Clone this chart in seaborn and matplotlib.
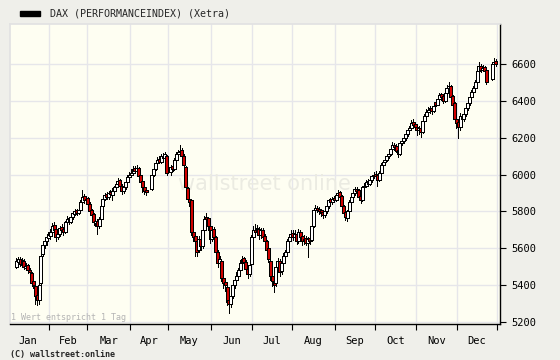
import numpy as np
import pandas as pd
import seaborn as sns
import matplotlib.pyplot as plt
from matplotlib.patches import Rectangle

start, end = '2006-01-06', '2006-12-29'
holidays = ['2006-04-14', '2006-04-17', '2006-05-01', '2006-12-25', '2006-12-26']
months = ['Jan', 'Feb', 'Mar', 'Apr', 'May', 'Jun', 'Jul', 'Aug', 'Sep', 'Oct', 'Nov', 'Dec']
yticks = [5200, 5400, 5600, 5800, 6000, 6200, 6400, 6600]

open_ = [
    5500, 5525, 5540, 5510, 5530, 5495, 5510, 5480, 5465, 5420, 5395, 5345, 5320, 5410, 5570, 5615, 5640, 5655,  # Jan
    5665, 5690, 5725, 5705, 5660, 5675, 5715, 5705, 5690, 5740, 5765, 5740, 5770, 5785, 5805, 5790, 5810, 5850, 5885, 5860,  # Feb
    5875, 5840, 5805, 5785, 5735, 5750, 5720, 5760, 5830, 5870, 5895, 5880, 5905, 5890, 5910, 5930, 5950, 5970, 5940, 5910, 5930, 5960, 5985,  # Mar
    6000, 6010, 6035, 6020, 6035, 5995, 5965, 5935, 5915, 5920, 6000, 6030, 6060, 6085, 6070, 6100, 6090, 6100,  # Apr
    6015, 6045, 6030, 6080, 6110, 6120, 6135, 6100, 6040, 5925, 5870, 5860, 5690, 5665, 5640, 5590, 5650, 5610, 5700, 5770, 5765, 5720,  # May
    5650, 5705, 5660, 5580, 5520, 5530, 5440, 5415, 5390, 5320, 5300, 5340, 5400, 5430, 5450, 5480, 5520, 5545, 5525, 5490, 5460, 5515,  # Jun
    5660, 5700, 5690, 5705, 5670, 5700, 5665, 5640, 5600, 5530, 5450, 5425, 5410, 5500, 5530, 5475, 5520, 5560, 5580, 5640, 5660,  # Jul
    5685, 5660, 5680, 5640, 5690, 5665, 5640, 5655, 5630, 5655, 5645, 5720, 5810, 5820, 5815, 5805, 5795, 5780, 5800, 5830, 5865, 5850, 5875,  # Aug
    5860, 5890, 5905, 5885, 5830, 5795, 5765, 5800, 5850, 5880, 5900, 5920, 5915, 5885, 5860, 5930, 5940, 5965, 5950, 5970, 5990,  # Sep
    6005, 5995, 5970, 6010, 6050, 6070, 6080, 6100, 6110, 6140, 6160, 6155, 6135, 6110, 6170, 6180, 6200, 6220, 6240, 6250, 6285, 6275,  # Oct
    6260, 6240, 6255, 6230, 6290, 6320, 6340, 6350, 6360, 6345, 6395, 6380, 6410, 6435, 6425, 6400, 6440, 6470, 6480, 6425, 6390, 6300,  # Nov
    6285, 6260, 6320, 6300, 6330, 6360, 6390, 6420, 6450, 6470, 6500, 6560, 6590, 6570, 6585, 6565, 6520, 6600, 6615,  # Dec
]
high = [
    5545, 5555, 5550, 5545, 5540, 5520, 5515, 5495, 5470, 5440, 5400, 5360, 5410, 5570, 5630, 5650, 5675, 5690,
    5705, 5735, 5740, 5715, 5695, 5720, 5730, 5715, 5750, 5775, 5770, 5785, 5800, 5815, 5815, 5825, 5860, 5915, 5895, 5885,
    5880, 5850, 5815, 5790, 5765, 5760, 5770, 5840, 5880, 5900, 5905, 5910, 5915, 5925, 5940, 5960, 5980, 5975, 5950, 5940, 5970, 5995, 6015,
    6030, 6045, 6045, 6050, 6040, 6000, 5970, 5945, 5930, 6010, 6045, 6070, 6095, 6100, 6110, 6115, 6120, 6105,
    6050, 6060, 6090, 6120, 6135, 6160, 6145, 6110, 6045, 5935, 5895, 5865, 5710, 5690, 5660, 5665, 5670, 5710, 5775, 5790, 5770, 5730,
    5720, 5715, 5665, 5590, 5560, 5535, 5460, 5440, 5395, 5335, 5360, 5420, 5445, 5470, 5495, 5535, 5560, 5555, 5535, 5500, 5525, 5670,
    5720, 5730, 5725, 5715, 5710, 5710, 5680, 5645, 5605, 5535, 5465, 5440, 5510, 5545, 5540, 5530, 5575, 5590, 5650, 5680, 5700,
    5700, 5700, 5690, 5705, 5700, 5675, 5670, 5665, 5660, 5670, 5730, 5820, 5835, 5830, 5825, 5815, 5805, 5815, 5840, 5870, 5875, 5880, 5885,
    5900, 5915, 5910, 5890, 5835, 5805, 5810, 5860, 5890, 5910, 5930, 5935, 5920, 5895, 5940, 5955, 5970, 5975, 5980, 6000, 6015,
    6020, 6000, 6020, 6060, 6080, 6095, 6110, 6125, 6150, 6175, 6170, 6165, 6140, 6180, 6195, 6210, 6235, 6250, 6265, 6295, 6300, 6285,
    6270, 6265, 6260, 6300, 6330, 6355, 6365, 6370, 6370, 6385, 6400, 6420, 6445, 6440, 6430, 6450, 6485, 6500, 6485, 6430, 6395, 6320,
    6300, 6335, 6330, 6345, 6375, 6400, 6430, 6460, 6480, 6515, 6570, 6610, 6600, 6595, 6590, 6570, 6610, 6630, 6625,
]
low = [
    5495, 5515, 5505, 5500, 5490, 5480, 5465, 5450, 5395, 5385, 5300, 5290, 5300, 5400, 5560, 5600, 5620, 5640,
    5650, 5680, 5685, 5640, 5650, 5665, 5690, 5670, 5685, 5730, 5730, 5735, 5760, 5780, 5780, 5785, 5800, 5845, 5845, 5850,
    5830, 5790, 5770, 5725, 5720, 5680, 5710, 5755, 5825, 5860, 5870, 5870, 5880, 5860, 5900, 5920, 5940, 5925, 5895, 5900, 5920, 5950, 5975,
    5990, 6000, 6010, 6010, 5980, 5945, 5905, 5895, 5890, 5915, 5990, 6025, 6050, 6060, 6065, 6080, 6085, 6000,
    6000, 6020, 6025, 6070, 6100, 6110, 6090, 6040, 5920, 5850, 5830, 5670, 5640, 5560, 5560, 5580, 5590, 5600, 5690, 5740, 5700, 5630,
    5640, 5640, 5560, 5500, 5500, 5420, 5385, 5370, 5290, 5250, 5280, 5330, 5385, 5420, 5440, 5470, 5510, 5505, 5470, 5440, 5450, 5510,
    5650, 5670, 5675, 5650, 5655, 5640, 5620, 5570, 5525, 5430, 5395, 5365, 5395, 5480, 5450, 5460, 5510, 5545, 5575, 5630, 5650,
    5645, 5650, 5625, 5630, 5640, 5620, 5625, 5615, 5550, 5625, 5640, 5715, 5800, 5795, 5785, 5775, 5765, 5770, 5790, 5820, 5835, 5840, 5850,
    5855, 5880, 5870, 5820, 5775, 5755, 5750, 5795, 5840, 5870, 5890, 5900, 5870, 5845, 5855, 5920, 5935, 5940, 5945, 5960, 5980,
    5975, 5940, 5965, 6005, 6040, 6060, 6075, 6090, 6105, 6130, 6135, 6120, 6095, 6105, 6160, 6170, 6190, 6210, 6230, 6245, 6255, 6240,
    6215, 6220, 6205, 6225, 6280, 6310, 6330, 6335, 6330, 6340, 6370, 6375, 6400, 6405, 6390, 6395, 6435, 6460, 6410, 6365, 6285, 6250,
    6200, 6240, 6270, 6290, 6320, 6350, 6380, 6415, 6440, 6460, 6495, 6550, 6555, 6560, 6545, 6490, 6515, 6590, 6590,
]
close = [
    5530, 5540, 5515, 5535, 5500, 5505, 5480, 5470, 5410, 5400, 5340, 5320, 5400, 5560, 5620, 5640, 5660, 5670,
    5690, 5720, 5700, 5660, 5680, 5710, 5700, 5690, 5740, 5760, 5740, 5770, 5790, 5800, 5790, 5810, 5850, 5880, 5860, 5870,
    5840, 5800, 5780, 5740, 5750, 5720, 5760, 5830, 5870, 5890, 5880, 5900, 5895, 5910, 5930, 5950, 5965, 5940, 5910, 5930, 5960, 5985, 6000,
    6010, 6030, 6020, 6035, 5990, 5960, 5930, 5910, 5905, 6000, 6030, 6060, 6080, 6070, 6100, 6090, 6110, 6010,
    6040, 6030, 6080, 6110, 6120, 6130, 6100, 6050, 5930, 5870, 5850, 5690, 5660, 5640, 5580, 5650, 5610, 5700, 5760, 5760, 5720, 5650,
    5700, 5660, 5580, 5520, 5540, 5440, 5410, 5400, 5310, 5300, 5340, 5400, 5430, 5450, 5480, 5520, 5540, 5525, 5490, 5460, 5510, 5660,
    5700, 5690, 5710, 5670, 5700, 5660, 5640, 5590, 5540, 5450, 5420, 5400, 5500, 5530, 5470, 5520, 5560, 5580, 5640, 5660, 5680,
    5660, 5680, 5640, 5690, 5660, 5640, 5650, 5630, 5650, 5640, 5720, 5810, 5820, 5810, 5800, 5790, 5780, 5800, 5830, 5860, 5850, 5870, 5860,
    5890, 5900, 5880, 5830, 5790, 5770, 5800, 5850, 5880, 5900, 5920, 5910, 5880, 5860, 5930, 5940, 5960, 5950, 5970, 5990, 6000,
    5990, 5970, 6010, 6050, 6070, 6080, 6100, 6110, 6140, 6160, 6150, 6130, 6110, 6170, 6180, 6200, 6220, 6240, 6250, 6280, 6270, 6260,
    6240, 6250, 6230, 6290, 6320, 6340, 6350, 6360, 6345, 6370, 6380, 6410, 6430, 6420, 6400, 6440, 6470, 6480, 6420, 6380, 6300, 6280,
    6260, 6320, 6300, 6330, 6360, 6390, 6420, 6450, 6470, 6500, 6560, 6590, 6570, 6580, 6560, 6500, 6600, 6610, 6600,
]

days = pd.bdate_range(start, end)
days = days[~days.isin(pd.to_datetime(holidays))]
df = pd.DataFrame({'open': open_, 'high': high, 'low': low, 'close': close}, index=days)
# x = Wochentag-Index ab 2. Jan (1 Wert = 1 Tag)
df['x'] = np.busday_count('2006-01-02', days.values.astype('datetime64[D]')) + 0.5

firsts = pd.date_range('2006-01-01', '2007-01-01', freq='MS').values.astype('datetime64[D]')
bounds = np.busday_count('2006-01-02', firsts)
mids = (bounds[:-1] + bounds[1:]) / 2

sns.set_theme(style='white', rc={'figure.facecolor': '#efefea', 'axes.facecolor': '#fefef2'})
plt.rcParams['font.family'] = ['DejaVu Sans Mono', 'DejaVu Sans']

fig = plt.figure(figsize=(5.6, 3.6), dpi=100)
ax = fig.add_axes([10 / 560, 36 / 360, 490 / 560, 300 / 360])

# Gitter
for b in bounds[1:]:
    ax.axvline(b, color='#e6e6ea', lw=1, zorder=0)
for t in yticks:
    ax.axhline(t, color='#e6e6ea', lw=1, zorder=0)

ax.text(0.52, 0.465, 'wallstreet online', transform=ax.transAxes, ha='center', va='center',
        fontsize=15, color='#ebebe2', family='DejaVu Sans', zorder=1)

# Kerzen
up = df['close'] >= df['open']
ax.vlines(df['x'], df['low'], df['high'], color='black', lw=0.6, antialiased=False, zorder=2)
ax.bar(df['x'], (df['close'] - df['open']).abs(), bottom=np.minimum(df['open'], df['close']),
       width=1.6, color=np.where(up, 'white', '#d00000'), edgecolor='black', linewidth=0.55,
       antialiased=False, zorder=3)

ax.set_xlim(1.06, 261.7)
ax.set_ylim(5189, 6817)

ax.yaxis.tick_right()
ax.set_yticks(yticks)
ax.set_yticklabels([str(t) for t in yticks])
ax.tick_params(axis='y', which='major', right=True, left=False, length=4, width=0.8,
               color='black', pad=4, labelsize=7.5, labelcolor='black')

ax.set_xticks(bounds[1:])
ax.set_xticklabels([])
ax.set_xticks(mids, minor=True)
ax.set_xticklabels(months, minor=True)
ax.tick_params(axis='x', which='major', bottom=True, length=4, width=0.8, color='black')
ax.tick_params(axis='x', which='minor', bottom=False, length=0, pad=9, labelsize=7.5, labelcolor='black')

for s in ['left', 'top']:
    ax.spines[s].set_color('#e2e2e2')
for s in ['bottom', 'right']:
    ax.spines[s].set_color('black')
    ax.spines[s].set_linewidth(1)

# Legende und Texte
fig.patches.append(Rectangle((20 / 560, 1 - 16 / 360), 20 / 560, 5 / 360,
                             transform=fig.transFigure, color='black'))
fig.text(50 / 560, 1 - 14 / 360, 'DAX (PERFORMANCEINDEX) (Xetra)', va='center', fontsize=7.2)
fig.text(11 / 560, 1 - 318 / 360, '1 Wert entspricht 1 Tag', va='center', fontsize=6, color='#b4b4b4')
fig.text(10 / 560, 1 - 354 / 360, '(C) wallstreet:online', va='center', fontsize=6, fontweight='bold')

fig.savefig('out.png', dpi=100, facecolor=fig.get_facecolor())
